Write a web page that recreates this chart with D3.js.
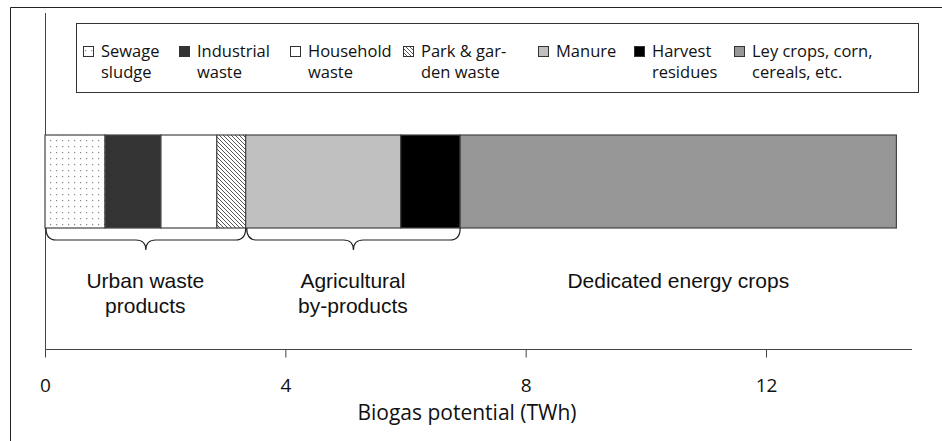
<!DOCTYPE html>
<html>
<head>
<meta charset="utf-8">
<script src="https://cdn.jsdelivr.net/npm/d3@7"></script>
<style>
  body { margin: 0; background: #fff; }
  text { fill: #111; }
</style>
</head>
<body>
<div id="div_chart"></div>
<script>
// chart data
const categories = ["Sewage sludge", "Industrial waste", "Household waste", "Park & garden waste",
                    "Manure", "Harvest residues", "Ley crops, corn, cereals, etc."];
const values = [1.0, 0.93, 0.93, 0.48, 2.58, 0.99, 7.26];
const legendLines = [["Sewage", "sludge"], ["Industrial", "waste"], ["Household", "waste"],
                     ["Park & gar-", "den waste"], ["Manure"], ["Harvest", "residues"],
                     ["Ley crops, corn,", "cereals, etc."]];
const fills = ["url(#dots)", "#333333", "#ffffff", "url(#hatch)", "#c0c0c0", "#000000", "#969696"];
const groupNames = [["Urban waste", "products"], ["Agricultural", "by-products"], ["Dedicated energy crops"]];
const groupRanges = [[0, 4], [4, 6], [6, 7]]; // category index ranges
const tickValues = [0, 4, 8, 12];

const svg_width = 942;
const svg_height = 441;

let svg = d3.select("#div_chart")
  .append("svg")
    .attr("width", svg_width)
    .attr("height", svg_height)

const defs = svg.append("defs");
let dots = defs.append("pattern")
    .attr("id", "dots")
    .attr("patternUnits", "userSpaceOnUse")
    .attr("width", 6)
    .attr("height", 6)
dots.append("rect").attr("width", 6).attr("height", 6).attr("fill", "#fff")
dots.append("rect").attr("x", 2).attr("y", 2).attr("width", 1.2).attr("height", 1.2).attr("fill", "#888")

let hatch = defs.append("pattern")
    .attr("id", "hatch")
    .attr("patternUnits", "userSpaceOnUse")
    .attr("width", 4)
    .attr("height", 4)
hatch.append("rect").attr("width", 4).attr("height", 4).attr("fill", "#fff")
hatch.append("path").attr("d", "M-1,-1 L5,5 M-1,3 L1,5 M3,-1 L5,1")
    .attr("stroke", "#555").attr("stroke-width", 1)

// outer frame (top and left edges)
svg.append("path")
    .attr("d", "M10.5,441 L10.5,7.5 L942,7.5")
    .attr("fill", "none")
    .attr("stroke", "#222")

const x = d3.scaleLinear().domain([0, 14.43]).range([45, 912]);
const barTop = 135, barBottom = 228;

// cumulative starts
let starts = [];
let acc = 0;
values.forEach(v => { starts.push(acc); acc += v; });

// y axis line
svg.append("line")
    .attr("x1", 45.5).attr("x2", 45.5)
    .attr("y1", 13).attr("y2", 349)
    .attr("stroke", "#444")

// bars
svg.selectAll("rect.seg")
  .data(values)
  .enter().append("rect")
    .attr("class", "seg")
    .attr("x", (d, i) => x(starts[i]))
    .attr("y", barTop)
    .attr("width", (d, i) => x(starts[i] + d) - x(starts[i]))
    .attr("height", barBottom - barTop)
    .attr("fill", (d, i) => fills[i])
    .attr("stroke", "#444")
    .attr("stroke-width", 1.2)

// x axis
let xAxis = svg.append("g")
    .attr("transform", "translate(0,349.5)")
    .call(d3.axisBottom(x).tickValues(tickValues).tickSize(8).tickFormat(d3.format("d")))
xAxis.select(".domain").attr("stroke", "#444").attr("d", "M45,0H912")
xAxis.selectAll(".tick line").attr("stroke", "#444")
xAxis.selectAll(".tick text")
    .attr("y", 42)
    .attr("dy", null)
    .style("font-family", "'Open Sans', sans-serif")
    .style("font-size", "19px")
    .attr("fill", "#111")

svg.append("text")
    .attr("x", 467)
    .attr("y", 420)
    .attr("text-anchor", "middle")
    .style("font-family", "'Open Sans', sans-serif")
    .style("font-size", "21px")
    .text("Biogas potential (TWh)")

// braces under the bar
function bracePath(x0, x1, y0) {
    const mid = (x0 + x1) / 2, h = 12, r = 10;
    return `M${x0},${y0} Q${x0},${y0 + h} ${x0 + r},${y0 + h}`
         + ` L${mid - r},${y0 + h} Q${mid},${y0 + h} ${mid},${y0 + h + 10}`
         + ` Q${mid},${y0 + h} ${mid + r},${y0 + h}`
         + ` L${x1 - r},${y0 + h} Q${x1},${y0 + h} ${x1},${y0}`;
}
groupRanges.slice(0, 2).forEach(g => {
    svg.append("path")
        .attr("d", bracePath(x(starts[g[0]]) + 1, x(starts[g[1]]), barBottom))
        .attr("fill", "none")
        .attr("stroke", "#222")
        .attr("stroke-width", 1.2)
});

// group labels
groupNames.forEach((lines, i) => {
    const g = groupRanges[i];
    const cx = (x(starts[g[0]]) + x(starts[g[1] - 1] + values[g[1] - 1])) / 2;
    lines.forEach((l, j) => {
        svg.append("text")
            .attr("text-anchor", "middle")
            .style("font-family", "'Liberation Sans', Arial, sans-serif")
            .style("font-size", "21px")
            .attr("x", cx).attr("y", 288 + j * 25).text(l)
    });
});

// legend
svg.append("rect")
    .attr("x", 76.5).attr("y", 23.5)
    .attr("width", 842).attr("height", 69)
    .attr("fill", "#fff")
    .attr("stroke", "#333")

const legendX = [83, 179, 290, 403, 538, 634, 734];
let legend = svg.selectAll("g.leg")
  .data(categories)
  .enter().append("g")
    .attr("class", "leg")
    .attr("transform", (d, i) => `translate(${legendX[i]},0)`)
legend.append("rect")
    .attr("x", 0.5).attr("y", 46.5)
    .attr("width", 10).attr("height", 10)
    .attr("fill", (d, i) => fills[i])
    .attr("stroke", "#333")
legend.each(function(d, i) {
    legendLines[i].forEach((l, j) => {
        d3.select(this).append("text")
            .style("font-family", "'Open Sans', sans-serif")
            .style("font-size", "16.5px")
            .attr("x", 18).attr("y", 57 + j * 21).text(l)
    });
})
</script>
</body>
</html>
